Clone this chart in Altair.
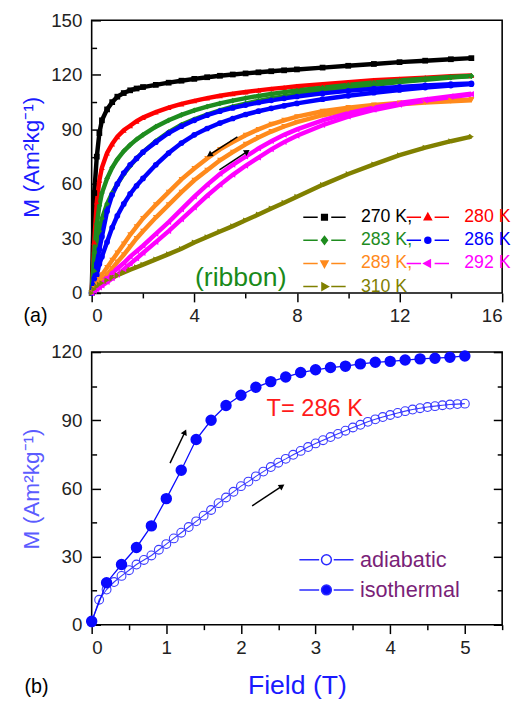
import altair as alt
import pandas as pd

# ------------------------------------------------------------------ panel (a) data
FIELD_A = [0, 0.1, 0.2, 0.3, 0.4, 0.6, 0.8, 1.0, 1.25, 1.5, 1.75, 2, 2.5, 3, 3.5, 4,
           4.5, 5, 5.5, 6, 6.5, 7, 7.5, 8, 9, 10, 11, 12, 13, 14, 14.8]

M_270 = [0, 55, 75, 88, 95, 101, 105, 108, 110, 111.5, 112.5, 113.3, 114.5, 115.7, 116.8, 117.8,
         118.7, 119.5, 120.2, 120.8, 121.4, 122, 122.5, 123, 124, 125, 126, 127, 127.8, 128.6, 129.2]
M_280 = [0, 28, 50, 62, 69, 77, 82, 86, 89.5, 92, 94.5, 96.5, 99.5, 102, 104, 105.7,
         107.2, 108.5, 109.6, 110.6, 111.5, 112.3, 113, 113.7, 114.9, 116, 117, 117.8, 118.5, 119.2, 119.7]
M_283_DOWN = [0, 22, 38, 48, 55, 63, 69, 73.5, 78, 81.5, 84.5, 87, 91.5, 95, 98, 100.5,
              102.5, 104.3, 105.8, 107.2, 108.4, 109.5, 110.5, 111.4, 113, 114.5, 115.8, 116.9, 117.9, 118.8, 119.4]
M_283_UP = [0, 12, 24, 34, 41, 49, 55, 60, 65.5, 70, 74, 77.5, 83.5, 88.5, 92.5, 95.5,
            98.2, 100.5, 102.5, 104.2, 105.7, 107, 108.2, 109.3, 111.2, 113, 114.6, 116, 117.3, 118.5, 119.3]
M_286_DOWN = [0, 8, 16, 24, 31, 45, 54, 60, 66, 70.5, 74, 77.5, 83, 88, 91.8, 95,
              97.8, 100, 101.8, 103.4, 104.8, 106, 107.1, 108.1, 109.8, 111.2, 112.4, 113.4, 114.2, 114.9, 115.3]
M_286_UP = [0, 5, 10, 16, 20, 28, 36, 42.5, 49, 54.5, 59, 63, 70.5, 77, 82.5, 87,
            90.5, 93.5, 96, 98.2, 100, 101.6, 103, 104.3, 106.6, 108.5, 110.2, 111.7, 113, 114.1, 114.9]
M_289_DOWN = [0, 2.5, 5, 7.5, 10, 14, 18, 22, 27, 32, 36.5, 41, 48.5, 55.5, 62.5, 68.5,
              74, 79, 83, 86.8, 90, 92.8, 95, 97, 100, 102, 103.5, 104.6, 105.4, 106, 106.4]
M_289_UP = [0, 1.5, 3, 5, 6.5, 10, 13.5, 17, 21, 25.5, 30, 34, 41.5, 48.5, 55.5, 62,
            67.5, 73, 77.5, 81.8, 85.5, 88.8, 91.6, 94, 97.8, 100.5, 102.5, 103.8, 104.8, 105.5, 106]
M_292_DOWN = [0, 1.5, 3, 4.5, 6, 8.5, 11, 13.5, 16.5, 20, 23, 26, 32.5, 39, 46, 53,
              59.5, 65.5, 70.5, 75, 79.5, 83.5, 87, 90, 95, 99, 102, 104.5, 106.5, 108.3, 109.6]
M_292_UP = [0, 1, 2, 3, 4, 6, 8, 10, 13, 16, 19, 22, 28, 34, 40.5, 47,
            53.5, 59.5, 65, 70, 74.5, 79, 83, 86.5, 92.3, 97, 100.7, 103.5, 105.8, 107.8, 109.2]
M_310 = [0, 2, 3.5, 4.7, 5.5, 7, 8.5, 9.8, 11.3, 12.8, 14.2, 15.6, 18.5, 21.4, 24.3, 27.8,
         30.8, 33.8, 36.8, 40, 43.2, 46.5, 49.7, 53, 59.5, 65.5, 70.8, 75.8, 80, 83.5, 86]

SERIES_A = ["270 K", "280 K", "283 K", "286 K", "289 K", "292 K", "310 K"]
LEGEND_COL1 = ["270 K", "283 K", "289 K", "310 K"]
LEGEND_COL2 = ["280 K", "286 K", "292 K"]
BRANCHES_A = [
    ("270 K", "270", M_270),
    ("280 K", "280", M_280),
    ("283 K", "283 down", M_283_DOWN), ("283 K", "283 up", M_283_UP),
    ("286 K", "286 down", M_286_DOWN), ("286 K", "286 up", M_286_UP),
    ("289 K", "289 down", M_289_DOWN), ("289 K", "289 up", M_289_UP),
    ("292 K", "292 down", M_292_DOWN), ("292 K", "292 up", M_292_UP),
    ("310 K", "310", M_310),
]

# ------------------------------------------------------------------ panel (b) data
FIELD_ISO = [0, 0.2, 0.4, 0.6, 0.8, 1.0, 1.2, 1.4, 1.6, 1.8, 2.0, 2.2, 2.4, 2.6, 2.8,
             3.0, 3.2, 3.4, 3.6, 3.8, 4.0, 4.2, 4.4, 4.6, 4.8, 5.0]
M_ISO = [1.5, 18.5, 26.5, 34, 43.5, 55.5, 68, 81.5, 90, 96.5, 101, 104.5, 107, 109, 111,
         112.2, 113.2, 113.8, 114.8, 115.5, 115.9, 116.5, 117, 117.3, 117.7, 118.3]
FIELD_ADI = [0, 0.1, 0.2, 0.3, 0.4, 0.5, 0.6, 0.7, 0.8, 0.9, 1.0, 1.1, 1.2, 1.3, 1.4, 1.5,
             1.6, 1.7, 1.8, 1.9, 2.0, 2.1, 2.2, 2.3, 2.4, 2.5, 2.6, 2.7, 2.8, 2.9, 3.0, 3.1,
             3.2, 3.3, 3.4, 3.5, 3.6, 3.7, 3.8, 3.9, 4.0, 4.1, 4.2, 4.3, 4.4, 4.5, 4.6, 4.7,
             4.8, 4.9, 5.0]
M_ADI = [1, 11, 15.5, 18.8, 21.5, 24, 26.5, 28.5, 30.5, 33, 35.5, 38, 40.5, 43, 45.5, 48,
         50.5, 53.5, 56, 58.5, 61, 63, 65.3, 67.4, 69.4, 71.3, 73, 74.8, 76.5, 78.2, 79.8, 81.2,
         82.6, 84, 85.4, 86.8, 88, 89.3, 90.4, 91.4, 92.3, 93.2, 94, 94.7, 95.3, 95.8, 96.2, 96.6,
         96.9, 97.1, 97.3]
CURVES_B = ["adiabatic", "isothermal"]

# ------------------------------------------------------------------ annotations (data units)
ARROWS_A = {"f0": [5.68, 4.98], "m0": [85.9, 67.8], "f1": [4.59, 6.06], "m1": [76.0, 77.8], "ang": [237, 57]}
ARROWS_B = {"f0": [1.05, 2.15], "m0": [71.1, 52.3], "f1": [1.25, 2.55], "m1": [84.8, 61.0], "ang": [25, 56]}
TEXT_A = {"f": [5.81], "m": [3.8], "t": ["(ribbon)"]}
TEXT_B = {"f": [2.99], "m": [91.9], "t": ["T= 286 K"]}

# ------------------------------------------------------------------ styles
FONT = "Liberation Sans"
PALETTE_A = ["#000000", "#ff0000", "#1e8c1e", "#0000ff", "#ff8a1c", "#ff00ff", "#808000"]
MARKERS_A = ["square", "triangle-up", "diamond", "circle", "triangle-down", "triangle-left", "triangle-right"]
SEG = "M-2.69,0H-0.86M0.86,0H2.69"
LEGEND_PATH = {
    "270 K": SEG + "M-0.36,-0.36H0.36V0.36H-0.36Z",
    "280 K": SEG + "M0,-0.5L0.45,0.32H-0.45Z",
    "283 K": SEG + "M0,-0.5L0.38,0L0,0.5L-0.38,0Z",
    "286 K": SEG + "M0.38,0A0.38,0.38,0,1,1,-0.38,0A0.38,0.38,0,1,1,0.38,0Z",
    "289 K": SEG + "M0,0.5L0.45,-0.32H-0.45Z",
    "292 K": SEG + "M-0.5,0L0.32,-0.45V0.45Z",
    "310 K": SEG + "M0.5,0L-0.32,-0.45V0.45Z",
}
PATH_B = "M-2.75,0H-0.74M0.74,0H2.75M0.5,0A0.5,0.5,0,1,1,-0.5,0A0.5,0.5,0,1,1,0.5,0Z"
BLUE = "#1a1aff"
W, H = 417, 277

rows = []
for series, branch, vals in BRANCHES_A:
    for f, m in zip(FIELD_A, vals):
        rows.append({"field": f, "M": m, "series": series, "branch": branch})
df_a = pd.DataFrame(rows)

rows = []
for f, m in zip(FIELD_ADI, M_ADI):
    rows.append({"field": f, "M": m, "curve": "adiabatic"})
for f, m in zip(FIELD_ISO, M_ISO):
    rows.append({"field": f, "M": m, "curve": "isothermal"})
df_b = pd.DataFrame(rows)


def color_expr(names, colors):
    expr = "'black'"
    for n, c in reversed(list(zip(names, colors))):
        expr = f"datum.value == '{n}' ? '{c}' : ({expr})"
    return expr


def make_xy(xdom, ydom):
    def X(field, axis=None):
        return alt.X(field, type="quantitative", scale=alt.Scale(domain=xdom, nice=False, zero=False), axis=axis)

    def Y(field, axis=None):
        return alt.Y(field, type="quantitative", scale=alt.Scale(domain=ydom, nice=False, zero=False), axis=axis)
    return X, Y


def y_label_axis(title, title_color, values):
    return alt.Axis(values=values, ticks=False, domain=False, grid=False, labelPadding=10,
                    labelFontSize=19, labelColor="#222222", labelFont=FONT,
                    title=title, titleColor=title_color, titleFontSize=23, titleFontWeight="normal",
                    titleFont=FONT, titlePadding=7)


def tick_axis(orient, values, size, offset=0):
    return alt.Axis(orient=orient, offset=offset, values=values, labels=False, domain=False, grid=False,
                    title=None, ticks=True, tickColor="#000000", tickWidth=1.5, tickSize=size,
                    minExtent=0, maxExtent=0)


def x_label_axis(values, title=None):
    kw = dict(values=values, format="d", ticks=True, tickSize=9, tickColor="#000000",
              tickWidth=1.5, domain=False, grid=False, labelFontSize=19, labelColor="#222222",
              labelFont=FONT, labelPadding=5)
    if title:
        kw.update(title=title, titleColor=BLUE, titleFontSize=27, titleFontWeight="normal",
                  titleFont=FONT, titlePadding=16)
    else:
        kw.update(title=None)
    return alt.Axis(**kw)


def tick_layers(base, X, Y, x_minor, y_major, y_minor, right_side):
    empty = base.transform_filter("datum.M < -1000")
    layers = [
        empty.mark_point().encode(x=X("field", tick_axis("bottom", x_minor, 5)),
                                  y=Y("M", tick_axis("right", y_major, 9, -W))),
        empty.mark_point().encode(x=X("field"), y=Y("M", tick_axis("right", y_minor, 5, -W))),
    ]
    if right_side:
        layers += [
            empty.mark_point().encode(x=X("field"), y=Y("M", tick_axis("left", y_major, 9, -W))),
            empty.mark_point().encode(x=X("field"), y=Y("M", tick_axis("left", y_minor, 5, -W))),
        ]
    return layers


# ------------------------------------------------------------------ panel (a)
Xa, Ya = make_xy([0, 16], [0, 150])
color_a = alt.Color("series:N", scale=alt.Scale(domain=SERIES_A, range=PALETTE_A), legend=None)
cexpr_a = color_expr(SERIES_A, PALETTE_A)

base_a = alt.Chart(df_a)
lines_a = base_a.mark_line(strokeWidth=4.5).encode(
    x=Xa("field", x_label_axis([0, 4, 8, 12, 16])),
    y=Ya("M", y_label_axis("M (Am²kg⁻¹)", BLUE, [0, 30, 60, 90, 120, 150])),
    color=color_a, detail="branch:N", order="field:Q")
points_a = base_a.mark_point(filled=True, size=34, opacity=1).encode(
    x=Xa("field"), y=Ya("M"), color=color_a,
    shape=alt.Shape("series:N", scale=alt.Scale(domain=SERIES_A, range=MARKERS_A), legend=None))


def legend_column(names, legend_x, label_expr):
    return base_a.transform_filter("datum.M < -1000").mark_point(filled=True).encode(
        x=Xa("field"), y=Ya("M"),
        fill=alt.Fill("series:N", scale=alt.Scale(domain=SERIES_A, range=PALETTE_A), legend=None),
        stroke=alt.Stroke("series:N", scale=alt.Scale(domain=SERIES_A, range=PALETTE_A), legend=None),
        shape=alt.Shape("series:N", scale=alt.Scale(domain=names, range=[LEGEND_PATH[n] for n in names]),
                        legend=alt.Legend(title=None, orient="none", legendX=legend_x, legendY=191,
                                          rowPadding=5.5, symbolSize=256, symbolOffset=12.5,
                                          symbolStrokeWidth=1.5, symbolOpacity=1,
                                          symbolFillColor=alt.ExprRef(expr=cexpr_a),
                                          symbolStrokeColor=alt.ExprRef(expr=cexpr_a),
                                          labelColor=alt.ExprRef(expr=cexpr_a), labelFontSize=18,
                                          labelFont=FONT, labelOffset=28, labelLimit=0,
                                          labelExpr=label_expr)))


legend_a1 = legend_column(LEGEND_COL1, 215, "datum.label == '310 K' ? datum.label : datum.label + ','")
legend_a2 = legend_column(LEGEND_COL2, 320, "datum.label")

text_a = alt.Chart(pd.DataFrame(TEXT_A)).mark_text(font=FONT, fontSize=27, color="#1a8a1a",
                                                    align="center", baseline="alphabetic").encode(
    x=Xa("f"), y=Ya("m"), text="t:N")
arrows_a_df = pd.DataFrame(ARROWS_A)
rules_a = alt.Chart(arrows_a_df).mark_rule(color="black", strokeWidth=1.5).encode(
    x=Xa("f0"), y=Ya("m0"), x2="f1", y2="m1")
heads_a = alt.Chart(arrows_a_df).mark_point(shape="triangle-up", filled=True, color="black", size=45, opacity=1).encode(
    x=Xa("f1"), y=Ya("m1"), angle=alt.Angle("ang:Q", scale=None))
label_a = alt.Chart(pd.DataFrame({"t": ["(a)"]})).mark_text(font=FONT, fontSize=20, color="black").encode(
    x=alt.value(-57), y=alt.value(300), text="t:N")

ticks_a = tick_layers(base_a, Xa, Ya, [2, 6, 10, 14], list(range(0, 151, 30)), list(range(15, 151, 30)), False)
panel_a = alt.layer(lines_a, points_a, legend_a1, legend_a2, *ticks_a, text_a, rules_a, heads_a,
                    label_a).resolve_scale(shape="independent").resolve_axis(
    x="independent", y="independent").properties(width=W, height=H)

# ------------------------------------------------------------------ panel (b)
Xb, Yb = make_xy([0, 5.5], [0, 120])
base_b = alt.Chart(df_b)
adi = base_b.transform_filter("datum.curve == 'adiabatic'")
iso = base_b.transform_filter("datum.curve == 'isothermal'")
adi_line = adi.mark_line(color="#3a3aff", strokeWidth=1.1).encode(
    x=Xb("field", x_label_axis([0, 1, 2, 3, 4, 5], "Field (T)")),
    y=Yb("M", y_label_axis("M (Am²kg⁻¹)", "#5c5cff", [0, 30, 60, 90, 120])))
adi_pts = adi.mark_point(shape="circle", filled=False, color="#3a3aff", size=80, strokeWidth=1.1, opacity=1).encode(
    x=Xb("field"), y=Yb("M"))
iso_line = iso.mark_line(color="#0a0aff", strokeWidth=1.3).encode(x=Xb("field"), y=Yb("M"))
iso_pts = iso.mark_point(shape="circle", filled=True, color="#0a0aff", size=135, opacity=1).encode(
    x=Xb("field"), y=Yb("M"))
legend_b = base_b.transform_filter("datum.M < -1000").mark_point(filled=True).encode(
    x=Xb("field"), y=Yb("M"),
    fill=alt.Fill("curve:N", scale=alt.Scale(domain=CURVES_B, range=["#ffffff", "#0a0aff"]), legend=None),
    stroke=alt.Stroke("curve:N", scale=alt.Scale(domain=CURVES_B, range=["#2b2bff", "#2b2bff"]), legend=None),
    shape=alt.Shape("curve:N", scale=alt.Scale(domain=CURVES_B, range=[PATH_B, PATH_B]),
                    legend=alt.Legend(title=None, orient="none", legendX=211, legendY=200, rowPadding=8.6,
                                      symbolSize=400, symbolOffset=16.5, symbolStrokeWidth=1.5, symbolOpacity=1,
                                      symbolFillColor=alt.ExprRef(expr="datum.value == 'adiabatic' ? '#ffffff' : '#0a0aff'"),
                                      symbolStrokeColor=alt.ExprRef(expr="'#2b2bff'"),
                                      labelColor="#7a1f78", labelFontSize=22,
                                      labelFont=FONT, labelOffset=23, labelLimit=0)))
text_b = alt.Chart(pd.DataFrame(TEXT_B)).mark_text(font=FONT, fontSize=24, color="#ff1a1a",
                                                    align="center", baseline="alphabetic").encode(
    x=Xb("f"), y=Yb("m"), text="t:N")
arrows_b_df = pd.DataFrame(ARROWS_B)
rules_b = alt.Chart(arrows_b_df).mark_rule(color="black", strokeWidth=1.5).encode(
    x=Xb("f0"), y=Yb("m0"), x2="f1", y2="m1")
heads_b = alt.Chart(arrows_b_df).mark_point(shape="triangle-up", filled=True, color="black", size=45, opacity=1).encode(
    x=Xb("f1"), y=Yb("m1"), angle=alt.Angle("ang:Q", scale=None))
label_b = alt.Chart(pd.DataFrame({"t": ["(b)"]})).mark_text(font=FONT, fontSize=20, color="black").encode(
    x=alt.value(-56), y=alt.value(340), text="t:N")

ticks_b = tick_layers(base_b, Xb, Yb, [0.5, 1.5, 2.5, 3.5, 4.5, 5.5], list(range(0, 121, 30)),
                      list(range(15, 121, 30)), True)
panel_b = alt.layer(adi_line, adi_pts, iso_line, iso_pts, legend_b, *ticks_b,
                    text_b, rules_b, heads_b, label_b).resolve_scale(
    shape="independent").resolve_axis(x="independent", y="independent").properties(width=W, height=H)

chart = alt.vconcat(panel_a, panel_b, spacing=60, bounds="flush").resolve_scale(
    color="independent", shape="independent", fill="independent", stroke="independent").configure_view(
    stroke="black", strokeWidth=1.6).properties(
    padding={"left": 12, "top": -3, "right": 0, "bottom": 0}, background="white")

chart.save("out.html", embed_options={"renderer": "svg", "actions": False})
